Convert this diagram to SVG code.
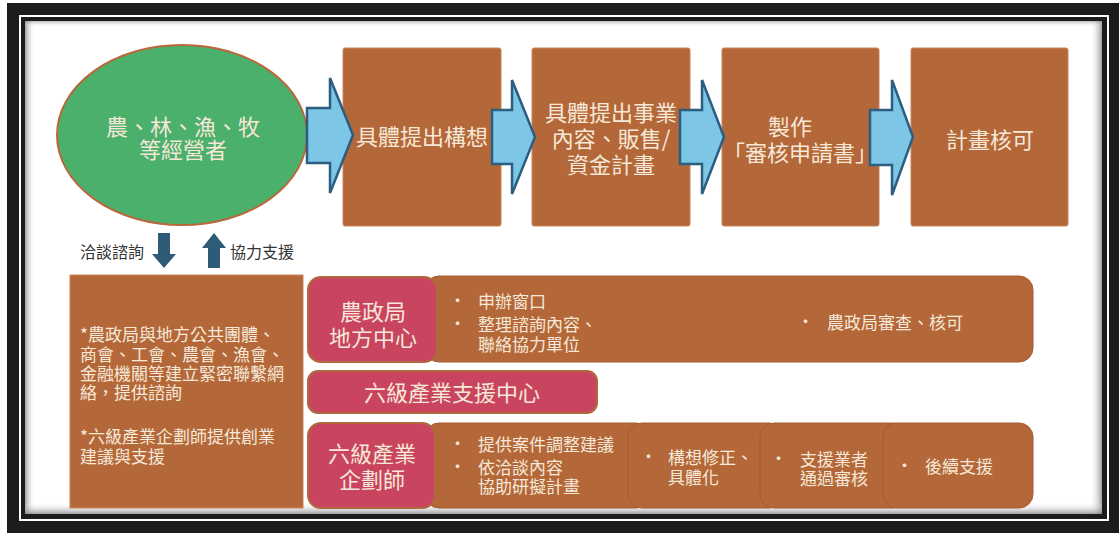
<svg xmlns="http://www.w3.org/2000/svg" width="1119" height="533" viewBox="0 0 1119 533">
<defs>
<style>
.t{font-family:"Noto Sans CJK TC","Noto Sans CJK SC",sans-serif;fill:#f6e8d8}
.big{font-size:22px;text-anchor:middle}
.sm{font-size:17px}
.lbl{font-family:"Noto Sans CJK TC","Noto Sans CJK SC",sans-serif;font-size:16px;fill:#333}
.box{fill:#b4683a;stroke:#c98557;stroke-width:1}
.pink{fill:#c9445f;stroke:#b0683e;stroke-width:2}
.seg{fill:#b4683a;stroke:#a45b30;stroke-width:1}
.blk{fill:#7dc6e6;stroke:#2b5e80;stroke-width:2.5;stroke-linejoin:miter}
.sarr{fill:#2d5b78}
</style>
<linearGradient id="gl" x1="0" y1="0" x2="1" y2="0"><stop offset="0" stop-color="#777" stop-opacity="0.7"/><stop offset="1" stop-color="#fff" stop-opacity="0"/></linearGradient>
<linearGradient id="gr" x1="1" y1="0" x2="0" y2="0"><stop offset="0" stop-color="#777" stop-opacity="0.7"/><stop offset="1" stop-color="#fff" stop-opacity="0"/></linearGradient>
<linearGradient id="gt" x1="0" y1="0" x2="0" y2="1"><stop offset="0" stop-color="#777" stop-opacity="0.5"/><stop offset="1" stop-color="#fff" stop-opacity="0"/></linearGradient>
<linearGradient id="gb" x1="0" y1="1" x2="0" y2="0"><stop offset="0" stop-color="#777" stop-opacity="0.7"/><stop offset="1" stop-color="#fff" stop-opacity="0"/></linearGradient>
</defs>

<g id="frame">
<rect x="0" y="0" width="1119" height="533" fill="#ffffff"/>
<rect x="7" y="3" width="1112" height="530" fill="#1d1b1c"/>
<rect x="20" y="16" width="1088" height="504" fill="none" stroke="#ffffff" stroke-width="2"/>
<rect x="25" y="21" width="1077" height="493" fill="#ffffff"/>
<rect x="25" y="21" width="10" height="493" fill="url(#gl)"/>
<rect x="1090" y="21" width="12" height="493" fill="url(#gr)"/>
<rect x="25" y="21" width="1077" height="6" fill="url(#gt)"/>
<rect x="25" y="502" width="1077" height="12" fill="url(#gb)"/>
</g>

<g id="n-operator">
<ellipse cx="182" cy="135" rx="125" ry="90" fill="#4cb06d" stroke="#b8683a" stroke-width="2"/>
<text class="t big" x="183" y="135">農、林、漁、牧</text>
<text class="t big" x="183" y="158">等經營者</text>
</g>

<g id="n-step1">
<rect class="box" x="343" y="48" width="158" height="178" rx="2"/>
<text class="t big" x="422" y="145">具體提出構想</text>
</g>
<g id="n-step2">
<rect class="box" x="532" y="48" width="158" height="178" rx="2"/>
<text class="t big" x="611" y="121">具體提出事業</text>
<text class="t big" x="611" y="147">內容、販售/</text>
<text class="t big" x="611" y="173">資金計畫</text>
</g>
<g id="n-step3">
<rect class="box" x="722" y="48" width="157" height="178" rx="2"/>
<text class="t big" x="790" y="135">製作</text>
<text class="t big" x="800" y="161">「審核申請書」</text>
</g>
<g id="n-step4">
<rect class="box" x="911" y="48" width="157" height="178" rx="2"/>
<text class="t big" x="990" y="148">計畫核可</text>
</g>

<g id="connectors">
<path class="blk" d="M307,108 L330,108 L330,78 L353,135 L330,193 L330,163 L307,163 Z"/>
<path class="blk" d="M492,110 L512,110 L512,80 L535,137 L512,194 L512,164 L492,164 Z"/>
<path class="blk" d="M680,110 L702,110 L702,80 L724,137 L702,194 L702,164 L680,164 Z"/>
<path class="blk" d="M870,110 L892,110 L892,80 L913,137 L892,195 L892,165 L870,165 Z"/>
<path class="sarr" d="M158,233 L170,233 L170,254 L176,254 L164,268 L152,254 L158,254 Z"/>
<path class="sarr" d="M214,233 L226,248 L220,248 L220,268 L208,268 L208,248 L202,248 Z"/>
<text class="lbl" x="80" y="258">洽談諮詢</text>
<text class="lbl" x="230" y="258">協力支援</text>
</g>

<g id="n-network">
<rect x="70" y="275" width="233" height="233" fill="#b4683a" stroke="#c98557" stroke-width="1"/>
<text class="t sm" x="80" y="341">*農政局與地方公共團體、</text>
<text class="t sm" x="80" y="361">商會、工會、農會、漁會、</text>
<text class="t sm" x="80" y="380">金融機關等建立緊密聯繫網</text>
<text class="t sm" x="80" y="399">絡，提供諮詢</text>
<text class="t sm" x="80" y="443">*六級產業企劃師提供創業</text>
<text class="t sm" x="80" y="463">建議與支援</text>
</g>

<g id="n-center-tasks">
<rect class="seg" x="425" y="276" width="608" height="86" rx="14"/>
<text class="t sm" x="449" y="307">•</text>
<text class="t sm" x="478" y="308">申辦窗口</text>
<text class="t sm" x="449" y="330">•</text>
<text class="t sm" x="478" y="331">整理諮詢內容、</text>
<text class="t sm" x="478" y="351">聯絡協力單位</text>
<text class="t sm" x="797" y="328">•</text>
<text class="t sm" x="827" y="329">農政局審查、核可</text>
</g>
<g id="n-local-center">
<rect class="pink" x="308" y="277" width="129" height="85" rx="13"/>
<text class="t big" x="373" y="320">農政局</text>
<text class="t big" x="373" y="346">地方中心</text>
</g>
<g id="n-support-center">
<rect class="pink" x="308" y="371" width="289" height="42" rx="10"/>
<text class="t big" x="452" y="401">六級產業支援中心</text>
</g>

<g id="n-planner-tasks">
<rect class="seg" x="425" y="423" width="225" height="85" rx="14"/>
<text class="t sm" x="449" y="450">•</text>
<text class="t sm" x="478" y="451">提供案件調整建議</text>
<text class="t sm" x="449" y="473">•</text>
<text class="t sm" x="478" y="474">依洽談內容</text>
<text class="t sm" x="478" y="493">協助研擬計畫</text>
</g>
<g id="n-planner-b">
<rect class="seg" x="628" y="423" width="155" height="85" rx="14"/>
<text class="t sm" x="640" y="463">•</text>
<text class="t sm" x="668" y="464">構想修正、</text>
<text class="t sm" x="668" y="484">具體化</text>
</g>
<g id="n-planner-c">
<rect class="seg" x="760" y="423" width="148" height="85" rx="14"/>
<text class="t sm" x="770" y="465">•</text>
<text class="t sm" x="800" y="466">支援業者</text>
<text class="t sm" x="800" y="485">通過審核</text>
</g>
<g id="n-planner-d">
<rect class="seg" x="883" y="423" width="150" height="85" rx="14"/>
<text class="t sm" x="896" y="472">•</text>
<text class="t sm" x="925" y="473">後續支援</text>
</g>
<g id="n-planner">
<rect class="pink" x="308" y="423" width="127" height="85" rx="13"/>
<text class="t big" x="372" y="462">六級產業</text>
<text class="t big" x="372" y="488">企劃師</text>
</g>
</svg>
